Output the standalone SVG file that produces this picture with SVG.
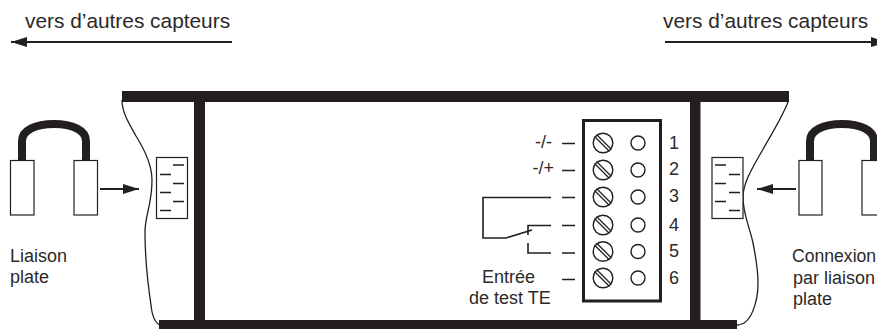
<svg xmlns="http://www.w3.org/2000/svg" width="877" height="329" viewBox="0 0 877 329">
<style>
text{font-family:"Liberation Sans",Arial,sans-serif;font-size:18px;fill:#2b2a29}
.top{font-size:20.85px}
.bar{fill:#231f20;stroke:none}
.box{fill:#fff;stroke:#231f20;stroke-width:1.2}
.thin{fill:none;stroke:#231f20;stroke-width:1.3}
.wire{fill:none;stroke:#231f20;stroke-width:1.6}
.dash{fill:none;stroke:#231f20;stroke-width:1.6}
.arr{fill:none;stroke:#231f20;stroke-width:2}
.handle{fill:none;stroke:#231f20;stroke-width:8}
.sc{fill:#fff;stroke:#231f20;stroke-width:1.4}
</style>
<defs>
<g id="screw"><circle class="sc" r="9.800"/><path class="thin" d="M-8.500,-6.500L6.500,8.500M-6.500,-8.500L8.500,6.500"/></g>
<circle id="hole" class="sc" r="7"/>
<marker id="ah" markerUnits="userSpaceOnUse" markerWidth="18" markerHeight="12" refX="16" refY="5" orient="auto"><path d="M0,0L16,5L0,10Z" fill="#231f20"/></marker>
</defs>
<rect width="877" height="329" fill="#fff"/>
<g id="housing">
<path class="thin" d="M122,100C122,112 128,122 136,136C146,152 152,166 152,180C152,205 145,215 145,232C145,255 148,285 151,305C152,315 155,323 160,325"/>
<path class="thin" d="M788,102C782,118 768,140 758,158C750,172 743,185 743,197C743,215 750,228 753,243C756,258 758,270 758,283C758,300 752,325 737,325"/>
<rect class="bar" x="122" y="91" width="667" height="11"/>
<rect class="bar" x="159" y="320" width="578" height="9"/>
<rect class="bar" x="194" y="102" width="11" height="218"/>
<rect class="bar" x="690" y="102" width="10.500" height="218"/>
</g>
<g id="label-left-top"><text class="top" x="25" y="28">vers d’autres capteurs</text></g>
<g id="label-right-top"><text class="top" x="663" y="28">vers d’autres capteurs</text></g>
<g id="cable-left">
<path class="handle" d="M22,160V141C22,130 36,124 54,124C72,124 86,130 86,141V160"/>
<rect class="box" x="10.500" y="160.500" width="23.500" height="54.500"/>
<rect class="box" x="74" y="160.500" width="23.500" height="54.500"/>
</g>
<g id="cable-right">
<path class="handle" d="M810,160V141C810,130 824,124 842,124C860,124 874,130 874,141V160"/>
<rect class="box" x="799" y="160.500" width="23" height="54.500"/>
<rect class="box" x="862" y="160.500" width="23" height="54.500"/>
</g>
<g id="module-left">
<rect class="box" x="156.500" y="157.500" width="31" height="61"/>
<path class="dash" d="M173,165H184M160,174.500H171M173,183.500H184M160,192.500H171M173,201.500H184M160,210.500H171"/>
</g>
<g id="module-right">
<rect class="box" x="712" y="157.500" width="31" height="61"/>
<path class="dash" d="M715,165H726M729,174.500H740M715,183.500H726M729,192.500H740M715,201.500H726M729,210.500H740"/>
</g>
<g id="terminal-block">
<rect x="583.500" y="120.500" width="77" height="180.500" fill="#fff" stroke="#231f20" stroke-width="3"/>
<use href="#screw" x="603" y="143"/><use href="#screw" x="603" y="170"/><use href="#screw" x="603" y="197"/><use href="#screw" x="603" y="225"/><use href="#screw" x="603" y="251.500"/><use href="#screw" x="603" y="278"/>
<use href="#hole" x="638" y="143"/><use href="#hole" x="638" y="170"/><use href="#hole" x="638" y="197"/><use href="#hole" x="638" y="225"/><use href="#hole" x="638" y="251.500"/><use href="#hole" x="638" y="278"/>
<text x="669" y="149">1</text><text x="669" y="175">2</text><text x="669" y="202">3</text><text x="669" y="231">4</text><text x="669" y="257">5</text><text x="669" y="284">6</text>
</g>
<g id="connectors">
<path class="arr" d="M232,42H11" marker-end="url(#ah)"/>
<path class="arr" d="M665,42H887" marker-end="url(#ah)"/>
<path class="arr" d="M100,189H139" marker-end="url(#ah)"/>
<path class="arr" d="M796,189H757" marker-end="url(#ah)"/>
<path class="dash" d="M562,143.500H575M562,170.500H575M562,197.500H575M562,225.500H575M562,253H575M562,279.500H575" stroke-width="2"/>
<path class="wire" d="M551,197.500H483V238H506L532,230M528,235V225.500H551M528,243V253H551"/>
</g>
<g id="labels">
<text x="10" y="262">Liaison</text><text x="10" y="283">plate</text>
<text x="792" y="262" style="font-size:17.6px">Connexion</text><text x="793" y="283.500">par liaison</text><text x="793" y="305">plate</text>
<text x="552" y="148" text-anchor="end">-/-</text><text x="554" y="174" text-anchor="end">-/+</text>
<text x="482" y="283">Entrée</text><text x="469" y="304">de test TE</text>
</g>
</svg>
